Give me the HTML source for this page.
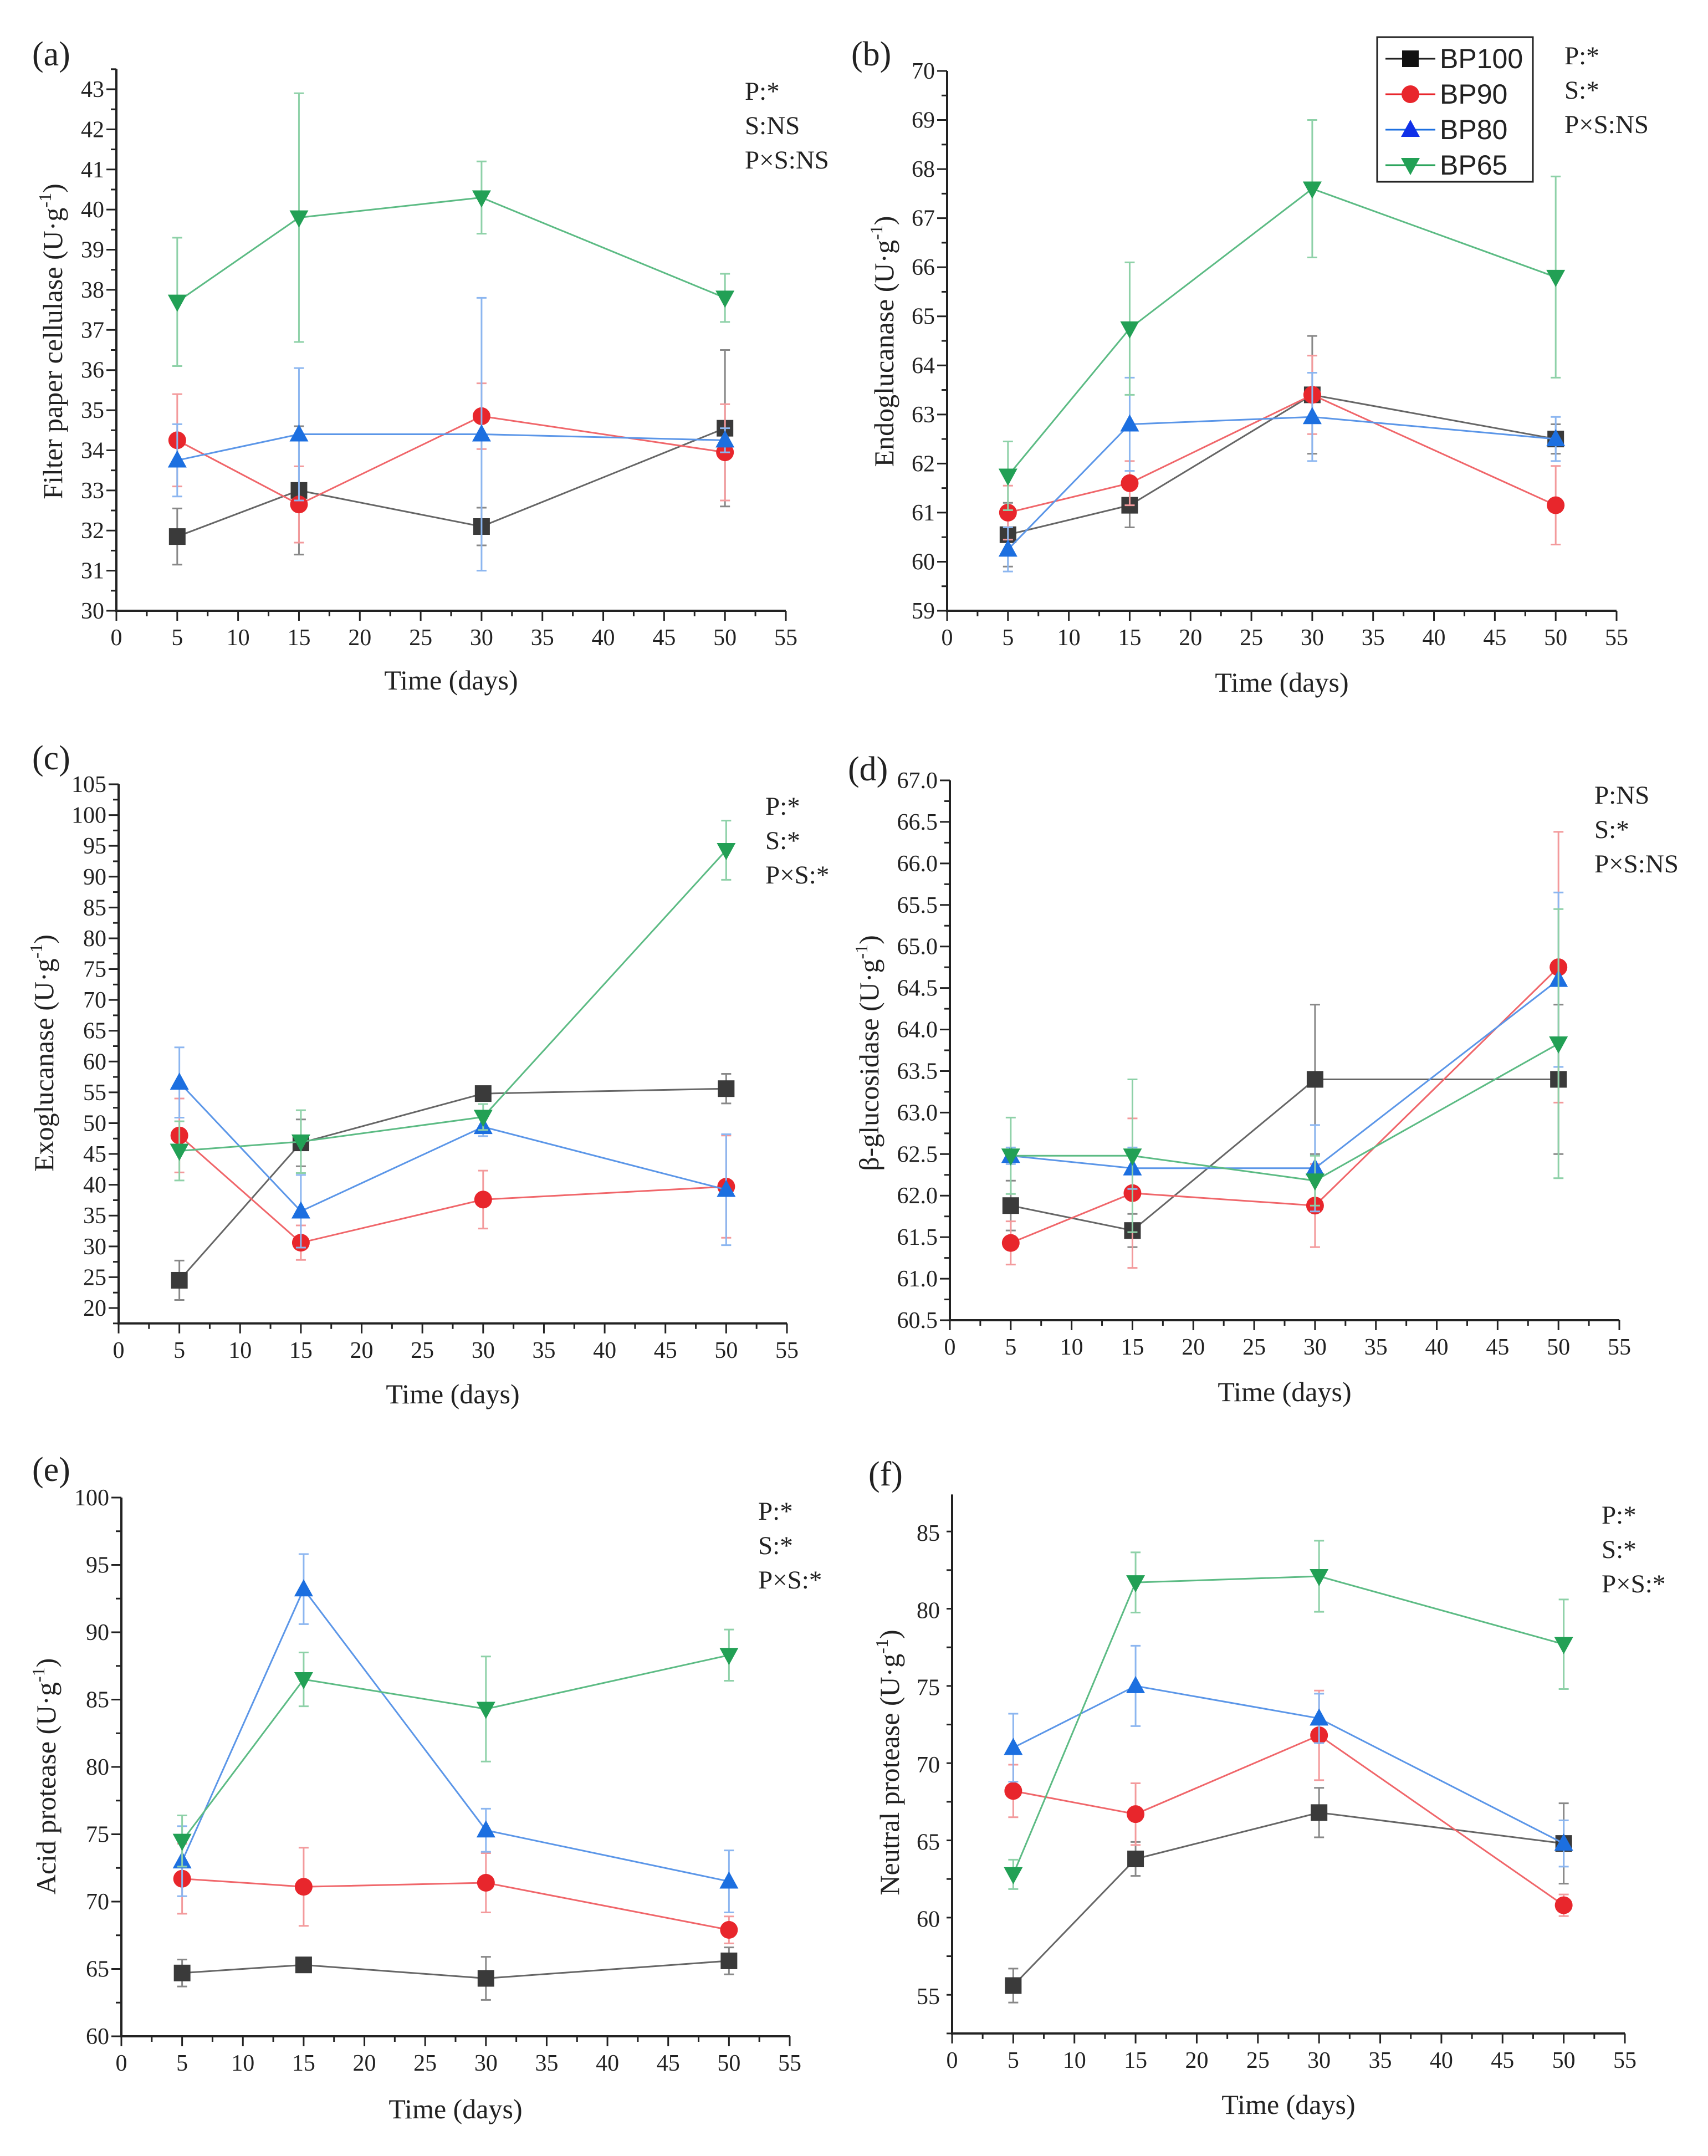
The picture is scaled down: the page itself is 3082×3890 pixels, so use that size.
<!DOCTYPE html>
<html><head><meta charset="utf-8"><style>
html,body{margin:0;padding:0;background:#fff}
svg{display:block}
text{font-family:"Liberation Serif",serif;fill:#222}
</style></head><body>
<svg id="fig" width="3082" height="3890" viewBox="0 0 3082 3890" xmlns="http://www.w3.org/2000/svg"></svg>
<script>
const days = [5, 15, 30, 50];
const seriesNames = ["BP100", "BP90", "BP80", "BP65"];
// panel a: filter paper cellulase
const aBP100 = [31.85, 33.0, 32.1, 34.55]; const aBP100e = [0.7, 1.6, 0.47, 1.95];
const aBP90 = [34.25, 32.65, 34.85, 33.95]; const aBP90e = [1.15, 0.95, 0.82, 1.2];
const aBP80 = [33.75, 34.4, 34.4, 34.25]; const aBP80e = [0.9, 1.65, 3.4, 0.3];
const aBP65 = [37.7, 39.8, 40.3, 37.8]; const aBP65e = [1.6, 3.1, 0.9, 0.6];
// panel b: endoglucanase
const bBP100 = [60.55, 61.15, 63.4, 62.5]; const bBP100e = [0.65, 0.45, 1.2, 0.3];
const bBP90 = [61.0, 61.6, 63.4, 61.15]; const bBP90e = [0.55, 0.45, 0.8, 0.8];
const bBP80 = [60.25, 62.8, 62.95, 62.5]; const bBP80e = [0.45, 0.95, 0.9, 0.45];
const bBP65 = [61.75, 64.75, 67.6, 65.8]; const bBP65e = [0.7, 1.35, 1.4, 2.05];
// panel c: exoglucanase
const cBP100 = [24.5, 46.8, 54.8, 55.6]; const cBP100e = [3.2, 3.8, 1.0, 2.4];
const cBP90 = [48.0, 30.6, 37.6, 39.7]; const cBP90e = [6.0, 2.8, 4.7, 8.3];
const cBP80 = [56.6, 35.7, 49.4, 39.2]; const cBP80e = [5.7, 5.9, 1.5, 9.0];
const cBP65 = [45.5, 47.0, 51.0, 94.3]; const cBP65e = [4.8, 5.1, 2.1, 4.8];
// panel d: beta-glucosidase
const dBP100 = [61.88, 61.58, 63.4, 63.4]; const dBP100e = [0.3, 0.2, 0.9, 0.9];
const dBP90 = [61.43, 62.03, 61.88, 64.75]; const dBP90e = [0.26, 0.9, 0.5, 1.63];
const dBP80 = [62.48, 62.33, 62.33, 64.6]; const dBP80e = [0.1, 0.25, 0.52, 1.05];
const dBP65 = [62.48, 62.48, 62.18, 63.83]; const dBP65e = [0.46, 0.92, 0.3, 1.62];
// panel e: acid protease
const eBP100 = [64.7, 65.3, 64.3, 65.6]; const eBP100e = [1.0, 0.3, 1.6, 1.0];
const eBP90 = [71.7, 71.1, 71.4, 67.9]; const eBP90e = [2.6, 2.9, 2.2, 1.0];
const eBP80 = [73.0, 93.2, 75.3, 71.5]; const eBP80e = [2.6, 2.6, 1.6, 2.3];
const eBP65 = [74.5, 86.5, 84.3, 88.3]; const eBP65e = [1.9, 2.0, 3.9, 1.9];
// panel f: neutral protease
const fBP100 = [55.7, 63.9, 66.9, 64.9]; const fBP100e = [1.1, 1.1, 1.6, 2.6];
const fBP90 = [68.3, 66.8, 71.9, 60.9]; const fBP90e = [1.7, 2.0, 2.9, 0.7];
const fBP80 = [71.1, 75.1, 73.0, 64.9]; const fBP80e = [2.2, 2.6, 1.6, 1.5];
const fBP65 = [62.9, 81.8, 82.2, 77.8]; const fBP65e = [0.95, 1.95, 2.3, 2.9];
const xTicks = [0, 5, 10, 15, 20, 25, 30, 35, 40, 45, 50, 55];

const NS = "http://www.w3.org/2000/svg";
const svg = document.getElementById("fig");
const markerColors = ["#3a3a3a", "#e8262c", "#1c6fe0", "#22a055"];
const lineColors = ["#666", "#f0666a", "#5b96e8", "#5cbb84"];
const errColors = ["#888", "#f39a9c", "#8cb6f0", "#8ed1a8"];
const shapes = ["square", "circle", "up", "down"];

function el(tag, attrs, parent) {
  const e = document.createElementNS(NS, tag);
  for (const k in attrs) e.setAttribute(k, attrs[k]);
  (parent || svg).appendChild(e);
  return e;
}
function marker(g, shape, cx, cy, color) {
  let m;
  if (shape === "square") m = el("rect", {x: cx-15, y: cy-15, width: 30, height: 30, fill: color}, g);
  else if (shape === "circle") m = el("circle", {cx: cx, cy: cy, r: 16, fill: color}, g);
  else if (shape === "up") m = el("polygon", {points: `${cx},${cy-18} ${cx+17},${cy+13} ${cx-17},${cy+13}`, fill: color}, g);
  else m = el("polygon", {points: `${cx},${cy+18} ${cx+17},${cy-13} ${cx-17},${cy-13}`, fill: color}, g);
  return m;
}

function panel(p) {
  const g = el("g", {});
  
  
  const X = v => p.x0 + (v / 55) * (p.x55 - p.x0);
  const Y = v => p.yA + (v - p.vA) / (p.vB - p.vA) * (p.yB - p.yA);
  const bottom = Y(p.ymin), top = Y(p.ymax);
  const ax = el("g", {stroke: "#222", "stroke-width": 4, fill: "none"}, g);
  
  
  el("line", {x1: p.x0, y1: top, x2: p.x0, y2: bottom + 2}, ax);
  el("line", {x1: p.x0 - 2, y1: bottom, x2: X(55), y2: bottom}, ax);
  for (let v = 0; v <= 55; v += 2.5) {
    const major = Math.abs(v % 5) < 1e-6;
    el("line", {x1: X(v), y1: bottom, x2: X(v), y2: bottom + (major ? 18 : 10), "stroke-width": 3}, ax);
  }
  xTicks.forEach(v => {
    const t = el("text", {x: X(v), y: bottom + 62, "font-size": 42, "text-anchor": "middle"}, g);
    t.textContent = v;
    
    
  });
  const steps = Math.round((p.ymax - p.ymin) / p.minor + 1e-6);
  for (let i = 0; i <= steps; i++) {
    const v = p.ymin + i * p.minor;
    const y = Y(v);
    if (y < top - 1) continue;
    const k = (v - p.tick0) / p.major;
    const major = Math.abs(k - Math.round(k)) < 1e-6;
    el("line", {x1: p.x0, y1: y, x2: p.x0 - (major ? 18 : 10), y2: y, "stroke-width": 3}, ax);
  }
  p.yTicks.forEach(v => {
    const t = el("text", {x: p.x0 - 22, y: Y(v) + 14, "font-size": 42, "text-anchor": "end"}, g);
    t.textContent = p.fmt ? v.toFixed(1) : v;
    
    
  });
  const xt = el("text", {x: (p.x0 + X(55)) / 2, y: p.xTitleY, "font-size": 50, "text-anchor": "middle"}, g);
  xt.textContent = "Time (days)";
  
  
  const yt = el("text", {x: 0, y: 0, "font-size": 50, "text-anchor": "middle", transform: `translate(${p.yTitleX},${p.yTitleY}) rotate(-90)`}, g);
  yt.innerHTML = p.yTitle + ' (U·g<tspan dy="-20" font-size="32">-1</tspan><tspan dy="20">)</tspan>';
  
  
  const lab = el("text", {x: p.labX, y: p.labY, "font-size": 62}, g);
  lab.textContent = "(" + p.id + ")";
  
  
  p.stats.forEach((s, i) => {
    const t = el("text", {x: p.statX, y: p.statY + i * 62, "font-size": 47}, g);
    t.textContent = s;
    
    
  });
  p.series.forEach((vals, si) => {
    const errs = p.errs[si];
    const sg = el("g", {}, g);
    
    
    vals.forEach((v, i) => {
      const x = X(days[i]);
      const eb = el("path", {d: `M${x},${Y(v - errs[i])}V${Y(v + errs[i])}M${x-9},${Y(v - errs[i])}h18M${x-9},${Y(v + errs[i])}h18`, stroke: errColors[si], "stroke-width": 3, fill: "none"}, sg);
      
      
    });
    const pts = vals.map((v, i) => X(days[i]) + "," + Y(v)).join(" ");
    const ln = el("polyline", {points: pts, stroke: lineColors[si], "stroke-width": 3, fill: "none"}, sg);
    
    
    vals.forEach((v, i) => {
      const m = marker(sg, shapes[si], X(days[i]), Y(v), markerColors[si]);
      
      
    });
  });
}

panel({id: "a", x0: 210, x55: 1418, vA: 30, yA: 1102, vB: 43, yB: 161, ymin: 30, ymax: 43.5, major: 1, minor: 0.5, tick0: 30,
  yTicks: [30,31,32,33,34,35,36,37,38,39,40,41,42,43], yTitle: "Filter paper cellulase", yTitleX: 112, yTitleY: 616,
  xTitleY: 1244, labX: 58, labY: 118, statX: 1344, statY: 180, stats: ["P:*", "S:NS", "P×S:NS"],
  series: [aBP100, aBP90, aBP80, aBP65], errs: [aBP100e, aBP90e, aBP80e, aBP65e]});
panel({id: "b", x0: 1709, x55: 2917, vA: 59, yA: 1102, vB: 70, yB: 128, ymin: 59, ymax: 70, major: 1, minor: 0.5, tick0: 59,
  yTicks: [59,60,61,62,63,64,65,66,67,68,69,70], yTitle: "Endoglucanase", yTitleX: 1612, yTitleY: 616,
  xTitleY: 1248, labX: 1536, labY: 118, statX: 2823, statY: 116, stats: ["P:*", "S:*", "P×S:NS"],
  series: [bBP100, bBP90, bBP80, bBP65], errs: [bBP100e, bBP90e, bBP80e, bBP65e]});
panel({id: "c", x0: 214, x55: 1420, vA: 20, yA: 2360, vB: 105, yB: 1415, ymin: 17.5, ymax: 105, major: 5, minor: 2.5, tick0: 20,
  yTicks: [20,25,30,35,40,45,50,55,60,65,70,75,80,85,90,95,100,105], yTitle: "Exoglucanase", yTitleX: 96, yTitleY: 1900,
  xTitleY: 2532, labX: 58, labY: 1388, statX: 1381, statY: 1470, stats: ["P:*", "S:*", "P×S:*"],
  series: [cBP100, cBP90, cBP80, cBP65], errs: [cBP100e, cBP90e, cBP80e, cBP65e]});
panel({id: "d", x0: 1714, x55: 2922, vA: 60.5, yA: 2382, vB: 67, yB: 1408, ymin: 60.5, ymax: 67, major: 0.5, minor: 0.25, tick0: 60.5, fmt: true,
  yTicks: [60.5,61,61.5,62,62.5,63,63.5,64,64.5,65,65.5,66,66.5,67], yTitle: "β-glucosidase", yTitleX: 1585, yTitleY: 1900,
  xTitleY: 2528, labX: 1530, labY: 1408, statX: 2877, statY: 1450, stats: ["P:NS", "S:*", "P×S:NS"],
  series: [dBP100, dBP90, dBP80, dBP65], errs: [dBP100e, dBP90e, dBP80e, dBP65e]});
panel({id: "e", x0: 219, x55: 1425, vA: 60, yA: 3674, vB: 100, yB: 2702, ymin: 60, ymax: 100, major: 5, minor: 2.5, tick0: 60,
  yTicks: [60,65,70,75,80,85,90,95,100], yTitle: "Acid protease", yTitleX: 100, yTitleY: 3205,
  xTitleY: 3822, labX: 58, labY: 2672, statX: 1368, statY: 2742, stats: ["P:*", "S:*", "P×S:*"],
  series: [eBP100, eBP90, eBP80, eBP65], errs: [eBP100e, eBP90e, eBP80e, eBP65e]});
panel({id: "f", x0: 1718, x55: 2932, vA: 55, yA: 3602, vB: 85, yB: 2766, ymin: 52.6, ymax: 87.5, major: 5, minor: 2.5, tick0: 55,
  yTicks: [55,60,65,70,75,80,85], yTitle: "Neutral protease", yTitleX: 1622, yTitleY: 3180,
  xTitleY: 3814, labX: 1567, labY: 2680, statX: 2890, statY: 2749, stats: ["P:*", "S:*", "P×S:*"],
  series: [fBP100, fBP90, fBP80, fBP65], errs: [fBP100e, fBP90e, fBP80e, fBP65e]});

const lg = el("g", {});


el("rect", {x: 2485, y: 67, width: 281, height: 261, fill: "#fff", stroke: "#222", "stroke-width": 3}, lg);
seriesNames.forEach((n, i) => {
  const y = 106 + i * 64;
  const entry = el("g", {}, lg);
  
  
  el("line", {x1: 2500, y1: y, x2: 2590, y2: y, stroke: i === 0 ? "#222" : markerColors[i], "stroke-width": 3}, entry);
  marker(entry, shapes[i], 2545, y, i === 0 ? "#111" : (i === 2 ? "#1030e8" : markerColors[i]));
  const t = el("text", {x: 2598, y: y + 17, "font-size": 50, style: 'font-family:"Liberation Sans",sans-serif'}, entry);
  t.textContent = n;
});
</script>
</body></html>
